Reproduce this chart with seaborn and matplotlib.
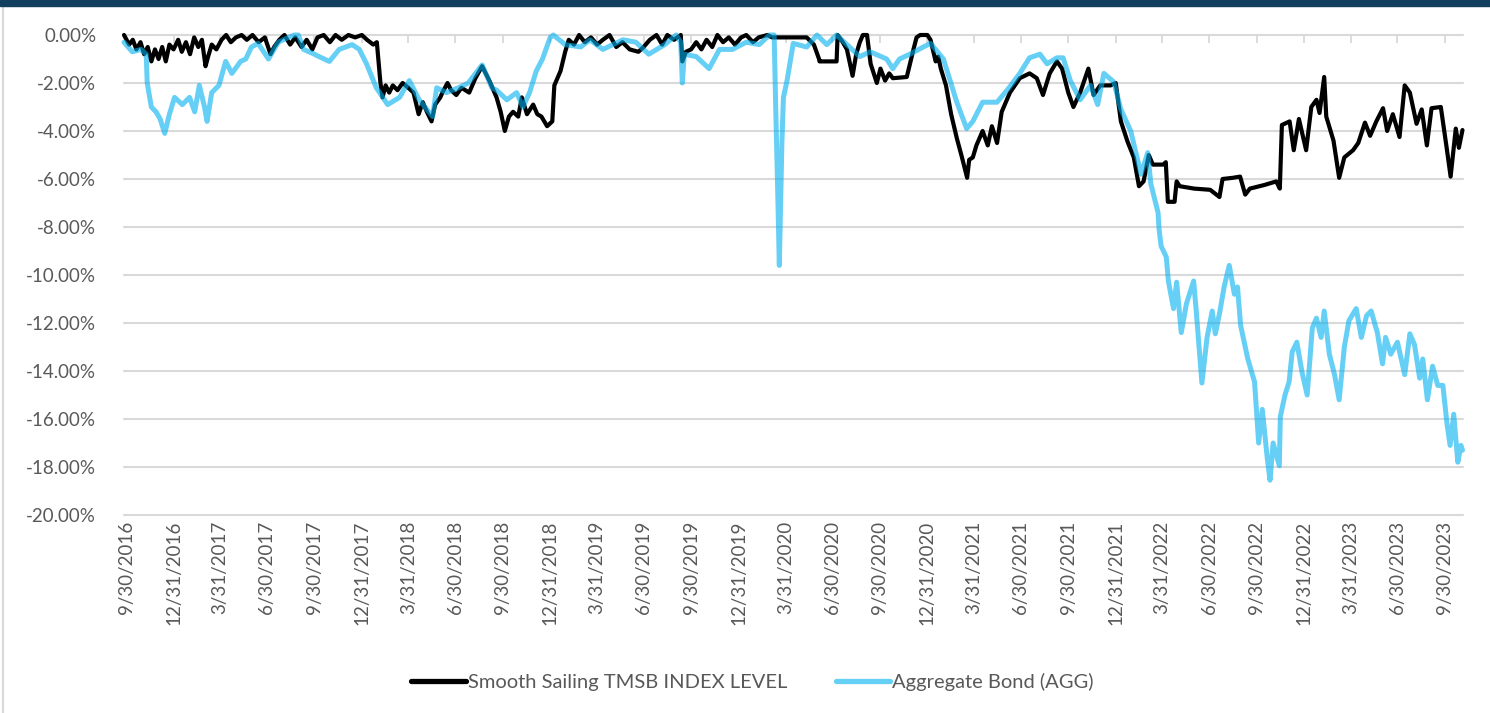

# drawdown chart: Smooth Sailing TMSB index vs Aggregate Bond (AGG)
import pandas as pd
import matplotlib.pyplot as plt
import seaborn as sns
from matplotlib.patches import Rectangle
from matplotlib.lines import Line2D
from matplotlib.ticker import FuncFormatter

# data (drawdown in %)
tmsb_dates = [
    "2016-09-26", "2016-10-06", "2016-10-13", "2016-10-20", "2016-10-28", "2016-11-04", "2016-11-11",
    "2016-11-18", "2016-11-25", "2016-12-02", "2016-12-09", "2016-12-16", "2016-12-23", "2016-12-31",
    "2017-01-09", "2017-01-16", "2017-01-24", "2017-02-01", "2017-02-09", "2017-02-17", "2017-02-24",
    "2017-03-03", "2017-03-08", "2017-03-15", "2017-03-24", "2017-04-03", "2017-04-12", "2017-04-21",
    "2017-05-01", "2017-05-12", "2017-05-22", "2017-06-02", "2017-06-14", "2017-06-26", "2017-07-07",
    "2017-07-14", "2017-07-24", "2017-08-03", "2017-08-14", "2017-08-24", "2017-09-05", "2017-09-15",
    "2017-09-26", "2017-10-06", "2017-10-18", "2017-10-30", "2017-11-10", "2017-11-22", "2017-12-05",
    "2017-12-18", "2017-12-31", "2018-01-10", "2018-01-22", "2018-01-29", "2018-02-05", "2018-02-09",
    "2018-02-15", "2018-02-22", "2018-03-01", "2018-03-10", "2018-03-20", "2018-03-31", "2018-04-10",
    "2018-04-20", "2018-04-28", "2018-05-06", "2018-05-15", "2018-05-22", "2018-06-01", "2018-06-05",
    "2018-06-15", "2018-06-22", "2018-07-02", "2018-07-12", "2018-07-27", "2018-08-08", "2018-08-21",
    "2018-08-28", "2018-09-04", "2018-09-18", "2018-09-26", "2018-10-04", "2018-10-12", "2018-10-20",
    "2018-10-30", "2018-11-06", "2018-11-16", "2018-11-28", "2018-12-06", "2018-12-14", "2018-12-25",
    "2019-01-04", "2019-01-08", "2019-01-20", "2019-01-29", "2019-02-05", "2019-02-15", "2019-02-25",
    "2019-03-08", "2019-03-20", "2019-04-01", "2019-04-12", "2019-04-25", "2019-05-08", "2019-05-20",
    "2019-06-03", "2019-06-20", "2019-06-30", "2019-07-12", "2019-07-25", "2019-08-05", "2019-08-15",
    "2019-08-28", "2019-09-10", "2019-09-13", "2019-09-20", "2019-09-30", "2019-10-10", "2019-10-20",
    "2019-10-30", "2019-11-10", "2019-11-20", "2019-12-01", "2019-12-12", "2019-12-24", "2020-01-05",
    "2020-01-15", "2020-01-28", "2020-02-08", "2020-02-25", "2020-03-05", "2020-05-11", "2020-05-25",
    "2020-06-04", "2020-06-05", "2020-07-08", "2020-07-10", "2020-07-20", "2020-07-28", "2020-08-08",
    "2020-08-15", "2020-08-22", "2020-08-28", "2020-09-05", "2020-09-12", "2020-09-24", "2020-10-01",
    "2020-10-10", "2020-10-18", "2020-10-25", "2020-11-21", "2020-12-04", "2020-12-10", "2020-12-17",
    "2020-12-31", "2021-01-06", "2021-01-16", "2021-01-21", "2021-01-26", "2021-02-05", "2021-02-15",
    "2021-02-26", "2021-03-08", "2021-03-18", "2021-03-22", "2021-03-29", "2021-04-05", "2021-04-17",
    "2021-04-27", "2021-05-05", "2021-05-15", "2021-05-24", "2021-06-09", "2021-06-28", "2021-07-17",
    "2021-07-31", "2021-08-12", "2021-08-25", "2021-09-08", "2021-09-18", "2021-09-30", "2021-10-10",
    "2021-10-23", "2021-11-08", "2021-11-18", "2021-12-01", "2021-12-21", "2021-12-31", "2022-01-10",
    "2022-01-23", "2022-02-04", "2022-02-14", "2022-02-23", "2022-03-05", "2022-03-13", "2022-04-02",
    "2022-04-07", "2022-04-11", "2022-04-24", "2022-04-28", "2022-05-04", "2022-06-01", "2022-07-02",
    "2022-07-20", "2022-07-26", "2022-08-15", "2022-08-29", "2022-09-08", "2022-09-17", "2022-10-15",
    "2022-11-07", "2022-11-14", "2022-11-18", "2022-12-03", "2022-12-11", "2022-12-21", "2023-01-04",
    "2023-01-14", "2023-01-24", "2023-01-30", "2023-02-08", "2023-02-12", "2023-02-26", "2023-03-09",
    "2023-03-19", "2023-04-05", "2023-04-15", "2023-04-28", "2023-05-08", "2023-05-20", "2023-06-02",
    "2023-06-10", "2023-06-21", "2023-07-04", "2023-07-14", "2023-07-24", "2023-08-06", "2023-08-16",
    "2023-08-26", "2023-09-04", "2023-09-22", "2023-10-03", "2023-10-11", "2023-10-21", "2023-10-27",
    "2023-11-03",
]
tmsb_values = [
    0.0, -0.4, -0.2, -0.6, -0.3, -0.8, -0.5,
    -1.1, -0.6, -1.0, -0.5, -1.1, -0.4, -0.6,
    -0.2, -0.7, -0.3, -0.8, -0.1, -0.5, -0.2,
    -1.3, -0.9, -0.4, -0.6, -0.2, 0.0, -0.3,
    -0.1, 0.0, -0.2, 0.0, -0.3, -0.1, -0.8,
    -0.5, -0.2, 0.0, -0.4, -0.1, -0.5, -0.2,
    -0.6, -0.1, 0.0, -0.3, 0.0, -0.2, 0.0,
    -0.1, 0.0, -0.2, -0.4, -0.3, -2.0, -2.6,
    -2.1, -2.4, -2.1, -2.3, -2.0, -2.2, -2.4,
    -3.3, -2.8, -3.2, -3.6, -2.9, -2.6, -2.4,
    -2.0, -2.3, -2.5, -2.2, -2.4, -1.8, -1.3,
    -1.6, -1.9, -2.6, -3.2, -4.0, -3.4, -3.2,
    -3.4, -2.6, -3.3, -2.9, -3.3, -3.4, -3.8,
    -3.6, -2.1, -1.5, -0.7, -0.2, -0.4, 0.0,
    -0.3, -0.1, -0.4, -0.2, 0.0, -0.5, -0.3,
    -0.6, -0.7, -0.5, -0.2, 0.0, -0.4, 0.0,
    -0.2, 0.0, -1.1, -0.7, -0.6, -0.3, -0.6,
    -0.2, -0.5, 0.0, -0.3, -0.1, -0.4, -0.1,
    0.0, -0.3, -0.1, 0.0, -0.1, -0.1, -0.4,
    -1.0, -1.1, -1.1, 0.0, -0.3, -0.6, -1.7,
    -0.8, -0.3, 0.0, 0.0, -1.2, -2.0, -1.4,
    -1.9, -1.6, -1.8, -1.75, -0.6, -0.1, 0.0,
    0.0, -0.2, -1.1, -0.9, -1.4, -2.1, -3.3,
    -4.3, -5.1, -5.95, -5.2, -5.1, -4.6, -4.0,
    -4.6, -3.8, -4.5, -3.2, -2.4, -1.8, -1.6,
    -1.8, -2.5, -1.6, -1.1, -1.4, -2.4, -3.0,
    -2.4, -1.4, -2.5, -2.1, -2.1, -2.0, -3.6,
    -4.45, -5.1, -6.3, -6.1, -5.0, -5.4, -5.4,
    -5.3, -6.95, -6.95, -6.1, -6.3, -6.4, -6.45,
    -6.75, -6.0, -5.95, -5.9, -6.65, -6.4, -6.25,
    -6.1, -6.4, -3.75, -3.6, -4.8, -3.5, -4.8,
    -3.0, -2.7, -3.25, -1.75, -3.4, -4.4, -5.95,
    -5.1, -4.8, -4.5, -3.65, -4.2, -3.6, -3.05,
    -4.0, -3.3, -4.25, -2.1, -2.4, -3.7, -3.1,
    -4.6, -3.05, -3.0, -4.65, -5.9, -3.9, -4.7,
    -3.96,
]

agg_dates = [
    "2016-09-26", "2016-10-12", "2016-10-29", "2016-11-08", "2016-11-10", "2016-11-14", "2016-11-18",
    "2016-11-27", "2016-12-05", "2016-12-14", "2016-12-23", "2017-01-02", "2017-01-17", "2017-01-31",
    "2017-02-10", "2017-02-19", "2017-03-01", "2017-03-06", "2017-03-15", "2017-03-29", "2017-04-11",
    "2017-04-23", "2017-05-10", "2017-05-20", "2017-05-31", "2017-06-13", "2017-07-03", "2017-07-22",
    "2017-08-11", "2017-08-22", "2017-08-30", "2017-09-09", "2017-09-30", "2017-10-09", "2017-10-29",
    "2017-11-17", "2017-12-12", "2017-12-26", "2018-01-09", "2018-01-28", "2018-02-19", "2018-03-14",
    "2018-04-02", "2018-04-21", "2018-05-17", "2018-05-25", "2018-06-13", "2018-07-06", "2018-07-25",
    "2018-08-21", "2018-09-09", "2018-09-18", "2018-10-08", "2018-10-27", "2018-11-08", "2018-11-21",
    "2018-12-04", "2018-12-16", "2018-12-31", "2019-01-06", "2019-01-29", "2019-02-28", "2019-03-18",
    "2019-04-12", "2019-05-21", "2019-06-15", "2019-07-10", "2019-08-10", "2019-09-01", "2019-09-10",
    "2019-09-13", "2019-09-17", "2019-10-10", "2019-11-04", "2019-11-24", "2019-12-19", "2020-01-15",
    "2020-02-09", "2020-02-29", "2020-03-09", "2020-03-12", "2020-03-16", "2020-03-19", "2020-03-24",
    "2020-03-27", "2020-04-03", "2020-04-15", "2020-05-11", "2020-05-31", "2020-06-19", "2020-07-08",
    "2020-07-28", "2020-08-22", "2020-09-11", "2020-10-13", "2020-10-25", "2020-11-07", "2020-11-27",
    "2020-12-23", "2021-01-06", "2021-01-31", "2021-02-26", "2021-03-17", "2021-03-29", "2021-04-17",
    "2021-05-15", "2021-06-09", "2021-06-28", "2021-07-17", "2021-08-06", "2021-08-20", "2021-09-08",
    "2021-09-20", "2021-10-04", "2021-10-23", "2021-11-12", "2021-11-26", "2021-12-08", "2021-12-27",
    "2022-01-10", "2022-01-29", "2022-02-18", "2022-03-03", "2022-03-09", "2022-03-23", "2022-03-25",
    "2022-03-29", "2022-04-08", "2022-04-12", "2022-04-22", "2022-04-28", "2022-05-07", "2022-05-17",
    "2022-05-31", "2022-06-05", "2022-06-16", "2022-06-26", "2022-07-06", "2022-07-12", "2022-07-21",
    "2022-07-29", "2022-08-08", "2022-08-18", "2022-08-24", "2022-08-30", "2022-09-13", "2022-09-26",
    "2022-10-04", "2022-10-11", "2022-10-21", "2022-10-26", "2022-11-01", "2022-11-13", "2022-11-15",
    "2022-11-24", "2022-12-02", "2022-12-08", "2022-12-17", "2022-12-27", "2023-01-06", "2023-01-16",
    "2023-01-24", "2023-02-02", "2023-02-08", "2023-02-18", "2023-02-28", "2023-03-09", "2023-03-19",
    "2023-03-28", "2023-04-11", "2023-04-21", "2023-05-01", "2023-05-10", "2023-05-22", "2023-06-01",
    "2023-06-07", "2023-06-17", "2023-06-30", "2023-07-14", "2023-07-24", "2023-08-02", "2023-08-12",
    "2023-08-18", "2023-08-27", "2023-09-06", "2023-09-16", "2023-09-26", "2023-10-04", "2023-10-10",
    "2023-10-17", "2023-10-25", "2023-10-31", "2023-11-03",
]
agg_values = [
    -0.3, -0.7, -0.6, -0.8, -2.0, -2.5, -3.0,
    -3.2, -3.5, -4.1, -3.3, -2.6, -2.9, -2.6,
    -3.2, -2.1, -3.0, -3.6, -2.4, -2.1, -1.1,
    -1.6, -1.1, -1.0, -0.5, -0.35, -1.0, -0.3,
    -0.1, 0.0, 0.0, -0.6, -0.8, -0.9, -1.1,
    -0.6, -0.4, -0.6, -1.2, -2.2, -2.9, -2.6,
    -1.9, -2.7, -3.4, -2.2, -2.4, -2.2, -2.0,
    -1.25, -2.2, -2.3, -2.7, -2.4, -3.0, -2.4,
    -1.5, -1.0, -0.1, 0.0, -0.4, -0.5, -0.2,
    -0.6, -0.2, -0.3, -0.8, -0.4, 0.0, -0.3,
    -2.0, -0.8, -0.9, -1.4, -0.6, -0.6, -0.3,
    -0.4, 0.0, 0.0, -3.0, -6.6, -9.6, -4.5,
    -2.6, -1.9, -0.35, -0.5, 0.0, -0.4, 0.0,
    -0.4, -0.9, -0.7, -1.0, -1.4, -1.0, -0.8,
    -0.5, -0.35, -1.0, -2.8, -3.9, -3.6, -2.8,
    -2.8, -2.15, -1.6, -0.95, -0.8, -1.2, -0.95,
    -0.95, -1.9, -2.7, -2.1, -2.9, -1.6, -1.95,
    -3.1, -4.0, -5.8, -4.9, -6.2, -7.4, -8.1,
    -8.8, -9.25, -10.25, -11.4, -10.3, -12.4, -11.2,
    -10.25, -11.5, -14.5, -12.6, -11.5, -12.45, -11.5,
    -10.5, -9.6, -10.8, -10.5, -12.1, -13.5, -14.45,
    -17.0, -15.6, -17.7, -18.55, -17.0, -17.95, -15.9,
    -15.0, -14.45, -13.2, -12.8, -14.05, -15.0, -12.2,
    -11.8, -12.6, -11.5, -13.3, -14.15, -15.2, -13.0,
    -11.9, -11.4, -12.6, -11.7, -11.5, -12.4, -13.7,
    -12.6, -13.3, -12.8, -14.15, -12.45, -12.9, -14.3,
    -13.5, -15.2, -13.8, -14.6, -14.6, -16.2, -17.1,
    -15.8, -17.8, -17.1, -17.3,
]

series_names = ["Smooth Sailing TMSB INDEX LEVEL", "Aggregate Bond (AGG)"]

tick_labels = [
    "9/30/2016", "12/31/2016", "3/31/2017", "6/30/2017", "9/30/2017", "12/31/2017", "3/31/2018",
    "6/30/2018", "9/30/2018", "12/31/2018", "3/31/2019", "6/30/2019", "9/30/2019", "12/31/2019",
    "3/31/2020", "6/30/2020", "9/30/2020", "12/31/2020", "3/31/2021", "6/30/2021", "9/30/2021",
    "12/31/2021", "3/31/2022", "6/30/2022", "9/30/2022", "12/31/2022", "3/31/2023", "6/30/2023",
    "9/30/2023",
]
y_ticks = [0, -2, -4, -6, -8, -10, -12, -14, -16, -18, -20]

# build dataframes
tmsb = pd.DataFrame({"date": pd.to_datetime(tmsb_dates), "drawdown": tmsb_values})
agg = pd.DataFrame({"date": pd.to_datetime(agg_dates), "drawdown": agg_values})
tick_dates = pd.to_datetime(tick_labels, format="%m/%d/%Y")

sns.set_theme(style="white")
plt.rcParams["font.family"] = ["Lato", "DejaVu Sans"]

grey_text = "#595959"
grid_col = "#D9D9D9"

fig = plt.figure(figsize=(14.9, 7.13), dpi=100)
ax = fig.add_axes([124 / 1490, 198 / 713, 1339 / 1490, 480 / 713])

sns.lineplot(data=tmsb, x="date", y="drawdown", color="black", linewidth=3.0,
             label=series_names[0], ax=ax)
sns.lineplot(data=agg, x="date", y="drawdown", color="#00B0F0", alpha=0.6, linewidth=3.6,
             label=series_names[1], ax=ax)
for ln in ax.get_lines():
    ln.set_clip_on(False)
    ln.set_solid_joinstyle("round")

ax.set_xlim(pd.Timestamp("2016-09-26"), pd.Timestamp("2023-11-04"))
ax.set_ylim(-20, 0)
ax.set_xlabel("")
ax.set_ylabel("")

# y axis: percent labels, grid
ax.set_yticks(y_ticks)
ax.yaxis.set_major_formatter(FuncFormatter(lambda v, p: f"{v:.2f}%"))
ax.yaxis.grid(True, color=grid_col, linewidth=1.5)
ax.xaxis.grid(False)
for g in ax.get_ygridlines():
    g.set_clip_on(False)
ax.tick_params(axis="y", left=False, labelsize=13.5, labelcolor=grey_text, pad=14)

# x axis: tick marks along the 0% line, labels at the bottom
ax.set_xticks(tick_dates)
ax.set_xticklabels(tick_labels)
ax.tick_params(axis="x", bottom=False, top=True, direction="in", length=6, width=1.3,
               color=grid_col, labelbottom=True, labeltop=False, labelrotation=90,
               labelsize=13.5, labelcolor=grey_text, pad=4)
for s in ax.spines.values():
    s.set_visible(False)
ax.set_axisbelow(True)

# legend at the bottom
ax.get_legend().remove()
handles, labels = ax.get_legend_handles_labels()
leg = fig.legend(handles, labels, loc="center", bbox_to_anchor=(0.505, 0.044), ncol=2,
                 frameon=False, fontsize=14.5, handlelength=2.7, handletextpad=0.1,
                 columnspacing=2.4)
for t in leg.get_texts():
    t.set_color(grey_text)
for h in leg.get_lines():
    h.set_linewidth(3.8)

# navy band on top and thin frame line on the left
fig.add_artist(Rectangle((0, 1 - 6 / 713), 1, 6 / 713, transform=fig.transFigure,
                         color="#123F5E", zorder=5))
fig.add_artist(Line2D([3 / 1490, 3 / 1490], [0, 1 - 6 / 713], transform=fig.transFigure,
                      color=grid_col, linewidth=1.5))

fig.savefig("out.png", dpi=100)
plt.close()
